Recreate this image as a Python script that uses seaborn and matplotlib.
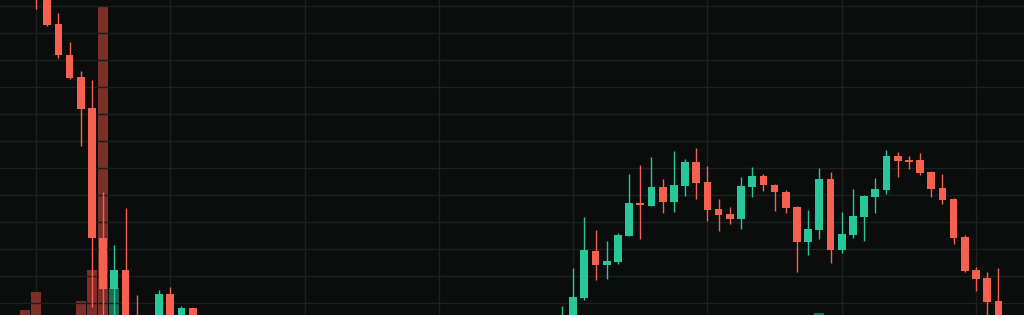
import numpy as np
import pandas as pd
import matplotlib
matplotlib.use("Agg")
import matplotlib.pyplot as plt
import seaborn as sns

# ---------------- data ----------------
bar_index = list(range(-1, 15)) + list(range(47, 87))

opens = [167.22, 162.59, 157.04, 151.61, 145.98, 141.85, 136.11, 112.04,
         102.59, 106.11, 96.85, 94.07, 96.85, 101.67, 96.48, 99.07,
         95.00, 96.85, 100.87, 109.69, 106.98, 107.59, 112.41, 118.52,
         118.02, 121.43, 118.65, 121.72, 126.06, 122.41, 117.41, 116.43,
         115.50, 121.43, 123.52, 121.85, 120.61, 117.72, 111.35, 113.57,
         123.02, 109.76, 112.59, 115.98, 119.69, 120.93, 127.22, 126.43,
         126.43, 124.31, 121.24, 119.20, 112.22, 106.06, 104.57, 100.37]
highs = [168.50, 163.52, 158.00, 153.70, 148.33, 142.96, 141.30, 120.56,
         110.74, 117.59, 101.48, 97.22, 102.41, 102.96, 99.44, 99.07,
         99.44, 106.48, 115.93, 113.52, 111.48, 113.02, 123.89, 125.61,
         127.04, 122.91, 128.15, 126.61, 128.65, 125.31, 119.31, 117.72,
         123.33, 125.13, 123.89, 122.09, 120.93, 117.96, 117.22, 125.00,
         124.26, 116.91, 121.06, 120.00, 123.20, 128.33, 127.96, 127.22,
         127.72, 124.44, 123.89, 119.50, 112.59, 106.67, 105.74, 106.48]
lows = [160.90, 154.44, 151.30, 145.37, 141.48, 129.07, 99.26, 95.00,
        96.85, 94.07, 93.15, 93.15, 95.93, 95.37, 95.93, 95.37,
        94.07, 95.93, 100.56, 104.26, 104.44, 107.22, 112.41, 111.80,
        118.02, 116.61, 116.80, 119.87, 119.20, 115.24, 113.39, 114.57,
        113.70, 119.69, 120.80, 117.09, 116.72, 105.69, 108.89, 111.80,
        107.46, 109.31, 112.09, 111.54, 116.61, 120.19, 123.39, 124.87,
        123.65, 119.57, 118.28, 110.87, 105.69, 102.28, 96.85, 95.00]
closes = [161.67, 157.04, 151.48, 145.87, 141.67, 135.93, 112.04, 102.59,
          106.11, 95.00, 94.07, 96.48, 101.67, 97.22, 99.07, 95.93,
          97.22, 101.06, 109.76, 106.98, 107.78, 112.59, 118.52, 118.09,
          121.43, 118.70, 121.91, 126.06, 122.22, 117.28, 116.24, 115.50,
          121.61, 123.52, 121.80, 120.50, 117.59, 111.35, 113.70, 123.02,
          109.76, 112.72, 116.11, 119.81, 121.06, 127.22, 126.24, 126.17,
          124.13, 121.11, 119.02, 112.09, 105.87, 104.39, 100.24, 95.93]
volumes = [12, 30, 5, 4, 5, 21, 52, 316, 34, 6, 3, 2, 4, 5, 3, 3,
           3, 4, 5, 4, 3, 4, 5, 4, 3, 4, 5, 4, 5, 4, 3, 3,
           4, 4, 3, 3, 3, 5, 4, 9, 5, 4, 4, 4, 3, 5, 3, 2,
           3, 3, 3, 4, 5, 4, 4, 5]  # thousands

# ---------------- style ----------------
BG = "#0b0c0c"
GRID = "#1e2020"
UP = "#27c79a"
DOWN = "#f6604f"
UP_VOL = "#1b6a54"
DOWN_VOL = "#7b2f28"

sns.set_theme(style="dark", rc={"axes.facecolor": BG, "figure.facecolor": BG})

df = pd.DataFrame({"bar": bar_index, "open": opens, "high": highs,
                   "low": lows, "close": closes, "volume": volumes})
df["dir"] = np.where(df["close"] >= df["open"], "up", "down")

fig = plt.figure(figsize=(10.24, 3.15), dpi=100)
ax_vol = fig.add_axes([0, 0, 1, 1])
ax = ax_vol.twinx()

# volume (behind)
sns.barplot(data=df, x="bar", y="volume", hue="dir",
            palette={"up": UP_VOL, "down": DOWN_VOL},
            native_scale=True, dodge=False, width=0.9, errorbar=None,
            saturation=1, legend=False, linewidth=0, ax=ax_vol)
ax_vol.set_ylim(7, 322)

# candles
colors = np.where(df["dir"] == "up", UP, DOWN)
ax.vlines(df["bar"], df["low"], df["high"], colors=colors, linewidth=1.0, zorder=3)
body_lo = np.minimum(df["open"], df["close"])
body_h = np.abs(df["close"] - df["open"])
ax.bar(df["bar"], body_h, bottom=body_lo, width=0.69, color=colors,
       linewidth=0, zorder=4)

ax.set_ylim(97.78, 156.11)
ax.set_xlim(-3.217, 88.29)
ax.set_zorder(ax_vol.get_zorder() + 1)
ax.patch.set_visible(False)

# grid: vertical lines on the base axes, horizontal on the price axes
ax_vol.set_xticks(np.arange(0, 85, 12))
ax_vol.grid(False)
ax_vol.set_axisbelow(True)
ax_vol.xaxis.grid(True, color=GRID, linewidth=1.0)
ax_vol.yaxis.grid(False)
ax.set_yticks(np.arange(100, 160, 5))
ax.yaxis.grid(True, color=GRID, linewidth=1.0)
ax.set_axisbelow(True)
ax.set_xlim(-3.217, 88.29)

for a in (ax, ax_vol):
    a.tick_params(left=False, right=False, bottom=False, top=False,
                  labelleft=False, labelright=False, labelbottom=False)
    a.set_xlabel("")
    a.set_ylabel("")
    for s in a.spines.values():
        s.set_visible(False)
ax_vol.set_facecolor(BG)

fig.savefig("out.png", dpi=100, facecolor=BG)
